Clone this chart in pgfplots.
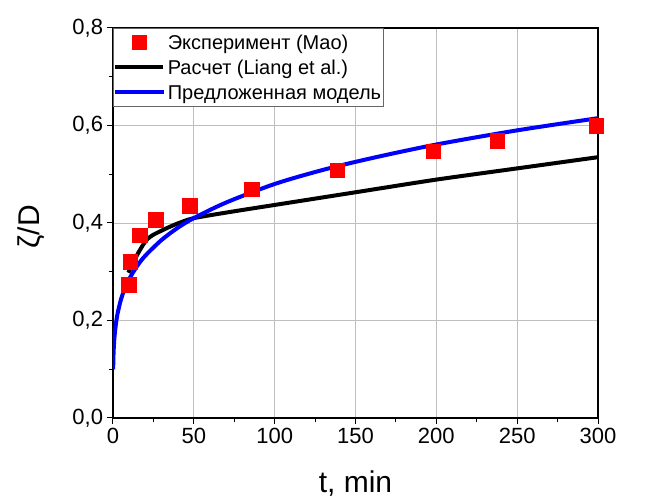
\documentclass[border=0pt]{standalone}
\usepackage{pgfplots}
\pgfplotsset{compat=1.18}
\usepackage{fontspec}
\setmainfont{Liberation Sans}
\begin{document}
\begin{tikzpicture}
\begin{axis}[
  scale only axis, width=485pt, height=390pt,
  axis lines=box,
  xmin=0, xmax=300, ymin=0, ymax=0.8,
  xtick={0,50,...,300}, minor x tick num=1,
  ytick={0,0.2,0.4,0.6,0.8}, minor y tick num=1,
  yticklabels={{0,0},{0,2},{0,4},{0,6},{0,8}},
  xtick pos=bottom, ytick pos=left, tick align=outside,
  major tick length=6pt, minor tick length=4pt,
  every tick/.append style={black, line width=1pt},
  every axis/.append style={line width=1.2pt},
  xmajorgrids=true, ymajorgrids=true,
  major grid style={draw=black!25, line width=0.8pt},
  /pgf/number format/assume math mode=true,
  ticklabel style={font=\fontsize{22}{26}\selectfont},
  xlabel={t, min}, ylabel={ζ/D},
  label style={font=\fontsize{30}{36}\selectfont},
  xlabel style={at={(axis description cs:0.5,-0.167)}, anchor=center},
  ylabel style={at={(axis description cs:-0.169,0.49)}, anchor=center},
  legend style={at={(0,1)}, anchor=north west, draw=black!60, line width=0.6pt,
    font=\fontsize{20}{24}\selectfont, inner xsep=0pt, inner ysep=4pt,
    nodes={inner xsep=2.5pt, inner ysep=0pt, text height=17pt, text depth=3pt},
    row sep=5pt, legend cell align=left},
  legend image code/.code={\draw[mark repeat=2,mark phase=2,#1] plot coordinates {(0pt,0pt) (24pt,0pt) (48pt,0pt)};},
]
\coordinate (bl) at (rel axis cs:0,0);
\coordinate (tr) at (rel axis cs:1,1);
\addplot[only marks, mark=square*, mark size=7pt, color=red] coordinates {
(9.9,0.273) (11,0.320) (16.7,0.375) (26.6,0.406) (47.6,0.435)
(86,0.468) (139,0.507) (198,0.546) (238,0.568) (299,0.599)};
\addlegendentry{Эксперимент (Mao)}
\addplot[black, line width=4pt, smooth, tension=0.4] coordinates {
(9.5,0.298) (12,0.315) (15,0.335) (18,0.352) (20,0.362) (22,0.369) (25,0.376)
(33,0.389) (40,0.399) (50,0.410) (75,0.424) (100,0.437) (150,0.463)
(200,0.489) (250,0.512) (300,0.535)};
\addlegendentry{Расчет (Liang et al.)}
\addplot[color={rgb,255:red,0;green,0;blue,255}, line width=4pt, smooth] coordinates {
(0.1,0.100) (0.3,0.129) (0.6,0.151) (1,0.169) (2,0.198) (3,0.217) (5,0.244)
(7,0.263) (10,0.285) (15,0.312) (20,0.333) (30,0.365) (40,0.390) (50,0.410)
(70,0.442) (100,0.480) (130,0.509) (160,0.533) (200,0.561) (250,0.590) (300,0.615)};
\addlegendentry{Предложенная модель}
\end{axis}
\pgfresetboundingbox
\path ([shift={(-113pt,-84pt)}]bl) rectangle ([shift={(52pt,28pt)}]tr);
\end{tikzpicture}
\end{document}
